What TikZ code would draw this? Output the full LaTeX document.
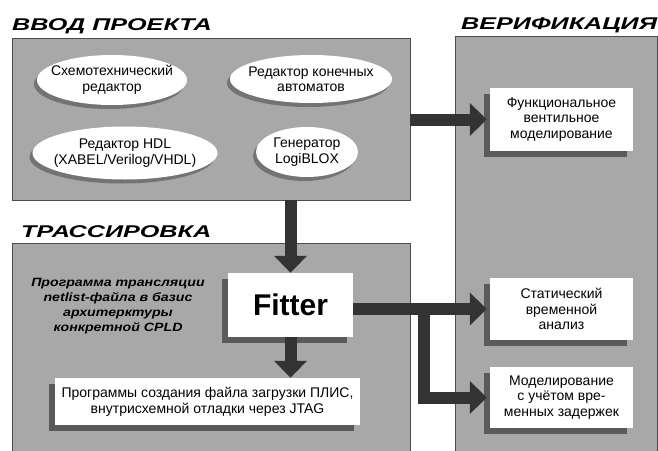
\documentclass[tikz,border=0pt]{standalone}
\usepackage{fontspec}
\setmainfont{Liberation Sans}
\newfontfamily\headfont[FakeStretch=1.48]{Liberation Sans}
\newfontfamily\notefont[FakeStretch=1.18]{Liberation Sans}
\usetikzlibrary{arrows.meta,positioning,shapes.geometric,shadows,calc}
\definecolor{panelgray}{RGB}{168,168,168}
\definecolor{arrowgray}{RGB}{51,51,51}
\definecolor{shadowgray}{RGB}{90,90,90}
\tikzset{
  panel/.style = { draw=black!70, line width=0.8pt, fill=panelgray, inner sep=0pt },
  heading/.style = { font=\headfont\bfseries\itshape\fontsize{17}{19}\selectfont, inner sep=0pt },
  txt/.style = { font=\fontsize{14}{15.5}\selectfont, align=center, inner sep=0pt },
  oval/.style = { ellipse, fill=white, inner sep=0pt,
    drop shadow={shadow xshift=-3pt, shadow yshift=-4pt, fill=black!55, opacity=1},
    label={[txt]center:{#1}} },
  wbox/.style = { txt, fill=white,
    drop shadow={shadow xshift=-6pt, shadow yshift=-6pt, fill=shadowgray, opacity=1} },
  bigarrow/.style = { draw=arrowgray, line width=12pt, -{Triangle[length=17pt,width=32pt]} }
}
\begin{document}
\begin{tikzpicture}[x=1pt, y=-1pt]
  \clip (0,0) rectangle (658,450);
  % panels
  \node[panel, minimum width=398, minimum height=162] (input) at (211,119) {};
  \node[panel, minimum width=398, minimum height=227] (route) at (211,356.5) {};
  \node[panel, minimum width=202, minimum height=434] (verif) at (556,253) {};
  \node[heading, anchor=base west] (inputT) at (12,30) {ВВОД ПРОЕКТА};
  \node[heading, anchor=base west] (verifT) at (461,29) {ВЕРИФИКАЦИЯ};
  \node[heading, anchor=base west] (routeT) at (21,237) {ТРАССИРОВКА};
  % editors
  \node[oval={Схемотехнический\\редактор}, minimum width=150, minimum height=50] (schem) at (112,80) {};
  \node[oval={Редактор конечных\\автоматов}, minimum width=162, minimum height=48] (fsm) at (311,79) {};
  \node[oval={Редактор HDL\\(XABEL/Verilog/VHDL)}, minimum width=185, minimum height=53] (hdl) at (125,153) {};
  \node[oval={Генератор\\LogiBLOX}, minimum width=102, minimum height=50] (logi) at (307,152) {};
  % verification
  \node[wbox, minimum width=143, minimum height=63] (func) at (561.5,119.5) {Функциональное\\вентильное\\моделирование};
  \node[wbox, minimum width=143, minimum height=62] (stat) at (561.5,309) {Статический\\временной\\анализ};
  \node[wbox, minimum width=143, minimum height=61, on grid, below=88.5pt of stat] (model) {Моделирование\\с учётом вре-\\менных задержек};
  % fitting
  \node[wbox, font=\bfseries\fontsize{30}{32}\selectfont, minimum width=125, minimum height=64] (fitter) at (290.5,305) {Fitter};
  \node[wbox, minimum width=305, minimum height=47] (prog) at (207.5,401.5) {Программы создания файла загрузки ПЛИС,\\внутрисхемной отладки через JTAG};
  \node[txt, font=\notefont\bfseries\itshape\fontsize{12}{15}\selectfont] (note) at (118,306) {Программа трансляции\\netlist-файла в базис\\архитерктуры\\конкретной CPLD};
  % arrows
  \coordinate (split) at ($(fitter.east |- stat.west)+(71,0)$);
  \draw[bigarrow] (input.east |- func.west) -- ([xshift=-3pt]func.west);
  \draw[bigarrow] (input.south -| fitter.north) -- (fitter.north);
  \draw[bigarrow] (fitter.south) -- (fitter.south |- prog.north);
  \draw[bigarrow] (fitter.east |- stat.west) -- ([xshift=-3pt]stat.west);
  \draw[bigarrow] (split) |- ([xshift=-3pt]model.west);
\end{tikzpicture}
\end{document}
